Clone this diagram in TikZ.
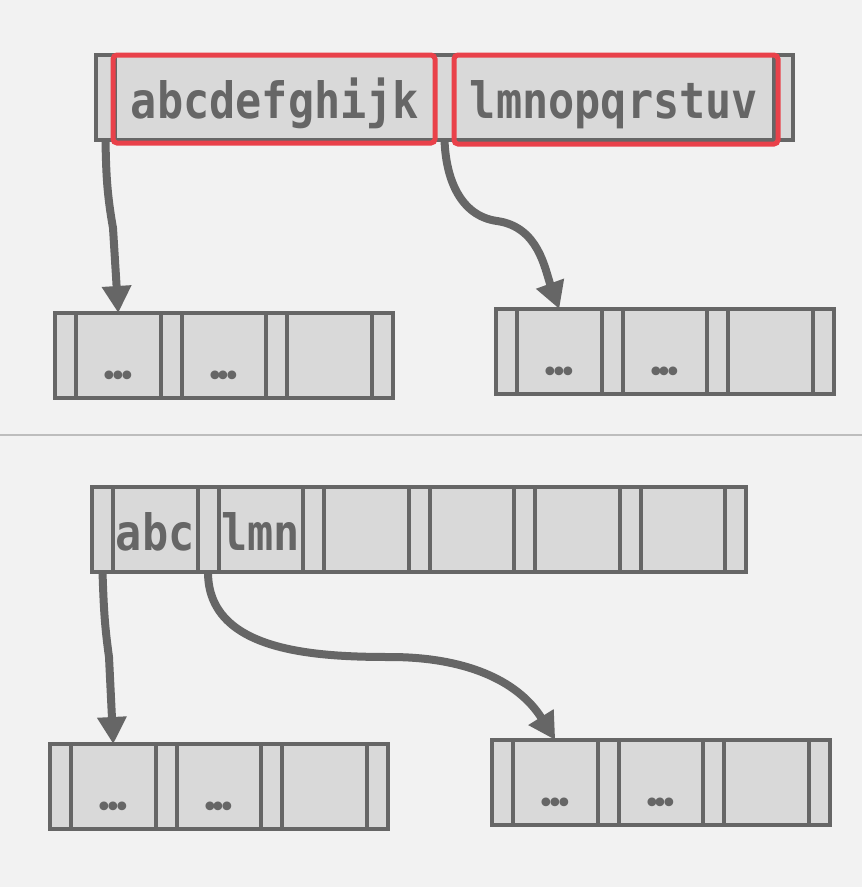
\documentclass[tikz,border=0pt]{standalone}
\usepackage{fontspec}
\usepackage{xcolor}
\usetikzlibrary{arrows.meta,positioning}
\newfontfamily\keyfont[FakeStretch=0.87]{DejaVu Sans Mono}
\newfontfamily\dotfont{DejaVu Sans}

\definecolor{bggray}{HTML}{F2F2F2}
\definecolor{sepgray}{HTML}{BDBDBD}
\definecolor{linegray}{HTML}{666666}
\definecolor{cellgray}{HTML}{D9D9D9}
\definecolor{hired}{HTML}{E9414A}

\begin{document}
\begin{tikzpicture}[
				x = 1pt, y = -1pt, % pixel grid, y downwards
				node distance = 0pt, % cells touch
				semithick % line style
			]
			
			\tikzstyle{strip}=[
			draw = linegray,
			fill = cellgray,
			line width = 4pt,
			minimum width = 21pt,
			minimum height = 85pt,
			inner sep = 0pt,
			outer sep = 0pt
			]
			\tikzstyle{cell}=[
			strip,
			minimum width = 84.5pt,
			text height = 41pt,
			text depth = 0pt,
			text = linegray,
			font = \keyfont\bfseries\fontsize{50}{50}\selectfont
			]
			\tikzstyle{dotcell}=[
			cell,
			text height = 62pt,
			font = \dotfont\fontsize{30}{30}\selectfont
			]
			\tikzstyle{ptr}=[
			draw = linegray,
			line width = 8pt,
			-{Triangle[width=28pt,length=27pt]}
			]
			\tikzstyle{hilite}=[
			draw = hired,
			line width = 5pt,
			rounded corners = 4pt
			]
			
			% background and divider
			\useasboundingbox (0,0) rectangle (862,887);
			\fill[bggray] (0,0) rectangle (862,887);
			\draw[sepgray, line width = 2.5pt] (0,435) -- (862,435);
			
			% upper half: node with two long keys
			\node[strip, anchor = north west, minimum width = 19pt] (t0) at (96,55) {};
			\node[cell, right = of t0, minimum width = 320pt] (t1) {abcdefghijk};
			\node[strip, right = of t1, minimum width = 19pt] (t2) {};
			\node[cell, right = of t2, minimum width = 320pt] (t3) {lmnopqrstuv};
			\node[strip, right = of t3, minimum width = 19pt] (t4) {};
			
			\node[strip, anchor = north west] (a0) at (55,313) {};
			\node[dotcell, right = of a0] (a1) {•\kern-8.8pt•\kern-8.8pt•};
			\node[strip, right = of a1] (a2) {};
			\node[dotcell, right = of a2] (a3) {•\kern-8.8pt•\kern-8.8pt•};
			\node[strip, right = of a3] (a4) {};
			\node[cell, right = of a4] (a5) {};
			\node[strip, right = of a5] (a6) {};
			
			\node[strip, anchor = north west] (b0) at (496,309) {};
			\node[dotcell, right = of b0] (b1) {•\kern-8.8pt•\kern-8.8pt•};
			\node[strip, right = of b1] (b2) {};
			\node[dotcell, right = of b2] (b3) {•\kern-8.8pt•\kern-8.8pt•};
			\node[strip, right = of b3] (b4) {};
			\node[cell, right = of b4] (b5) {};
			\node[strip, right = of b5] (b6) {};
			
			\draw[hilite] ([xshift=-2pt]t1.north west) rectangle ([yshift=-3pt]t1.south east);
			\draw[hilite] (t3.north west) rectangle ([xshift=4pt,yshift=-4pt]t3.south east);
			
			\draw[ptr] (t0.south) to[out=-89, in=100] (113,228) -- (a1.north);
			\draw[ptr] (t2.south) to[out=-88, in=172] (497,221) to[out=-8, in=110] (b1.north);
			
			% lower half: node with short prefixes
			\node[strip, anchor = north west] (p0) at (92,487) {};
			\node[cell, right = of p0] (p1) {abc};
			\node[strip, right = of p1] (p2) {};
			\node[cell, right = of p2] (p3) {lmn};
			\node[strip, right = of p3] (p4) {};
			\node[cell, right = of p4] (p5) {};
			\node[strip, right = of p5] (p6) {};
			\node[cell, right = of p6] (p7) {};
			\node[strip, right = of p7] (p8) {};
			\node[cell, right = of p8] (p9) {};
			\node[strip, right = of p9] (p10) {};
			\node[cell, right = of p10] (p11) {};
			\node[strip, right = of p11] (p12) {};
			
			\node[strip, anchor = north west] (c0) at (50,744) {};
			\node[dotcell, right = of c0] (c1) {•\kern-8.8pt•\kern-8.8pt•};
			\node[strip, right = of c1] (c2) {};
			\node[dotcell, right = of c2] (c3) {•\kern-8.8pt•\kern-8.8pt•};
			\node[strip, right = of c3] (c4) {};
			\node[cell, right = of c4] (c5) {};
			\node[strip, right = of c5] (c6) {};
			
			\node[strip, anchor = north west] (d0) at (492,740) {};
			\node[dotcell, right = of d0] (d1) {•\kern-8.8pt•\kern-8.8pt•};
			\node[strip, right = of d1] (d2) {};
			\node[dotcell, right = of d2] (d3) {•\kern-8.8pt•\kern-8.8pt•};
			\node[strip, right = of d3] (d4) {};
			\node[cell, right = of d4] (d5) {};
			\node[strip, right = of d5] (d6) {};
			
			\draw[ptr] (p0.south) to[out=-88, in=98] (109,657) -- (c1.north);
			\draw[ptr] (p2.south) to[out=-90, in=180] (390,657) to[out=0, in=122] (d1.north);
		\end{tikzpicture}
\end{document}
